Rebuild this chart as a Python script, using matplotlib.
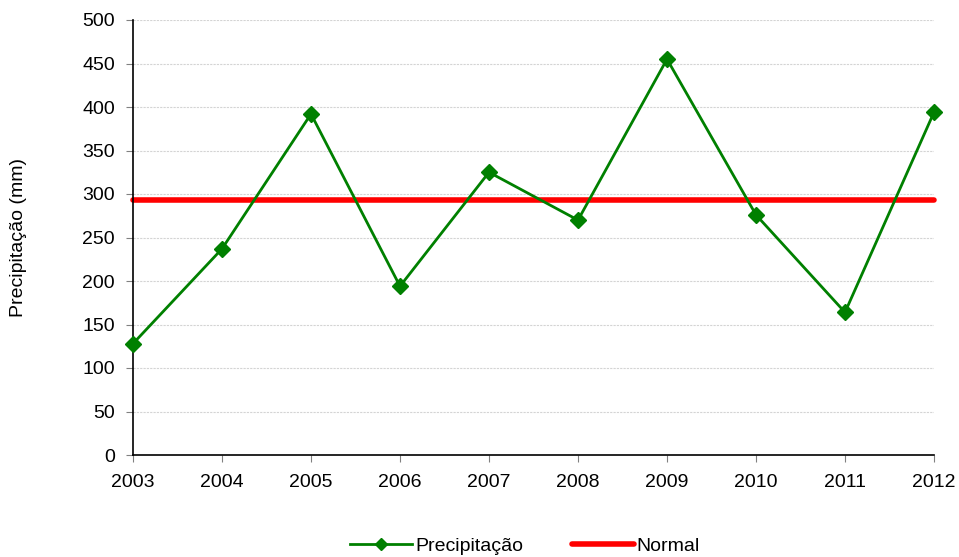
import matplotlib
matplotlib.use("Agg")
import matplotlib.pyplot as plt

plt.rcParams['font.family'] = ['Liberation Sans', 'DejaVu Sans']

# Precipitação anual e normal climatológica
anos = [2003, 2004, 2005, 2006, 2007, 2008, 2009, 2010, 2011, 2012]
precipitacao = [128, 237, 392, 194, 325, 270, 455, 276, 164, 394]
normal = 293

fig = plt.figure(figsize=(9.59, 5.57), dpi=100)
ax = fig.add_axes([133 / 959, 102 / 557, 801 / 959, 435 / 557])

ax.plot(anos, precipitacao, color='#008000', lw=2, marker='D', markersize=8,
        label='Precipitação', zorder=3, clip_on=False)
ax.plot([anos[0], anos[-1]], [normal, normal], color='#ff0000', lw=4,
        solid_capstyle='round', label='Normal', zorder=2, clip_on=False)

ax.set_xlim(anos[0], anos[-1])
ax.set_ylim(0, 500)
ax.set_xticks(anos)
ax.set_yticks(range(0, 501, 50))
ax.yaxis.grid(True, color='#d4d4d4', linestyle=(0, (2, 1)), lw=0.8)
ax.set_axisbelow(True)

for lado in ['top', 'right']:
    ax.spines[lado].set_visible(False)
ax.spines['left'].set_linewidth(1.2)
ax.spines['bottom'].set_linewidth(1.2)
ax.tick_params(axis='both', labelsize=14, length=5, direction='out',
               color='#808080')
ax.tick_params(axis='y', pad=8)
ax.tick_params(axis='x', pad=9)

ax.set_ylabel('Precipitação (mm)', fontsize=14, labelpad=40)

fig.legend(loc='center', bbox_to_anchor=(525 / 959, 1 - 546 / 557), ncol=2,
           frameon=False, fontsize=14, handlelength=3.2, columnspacing=2.5,
           handletextpad=0.15, markerscale=0.75)

fig.savefig('out.png', dpi=100)
